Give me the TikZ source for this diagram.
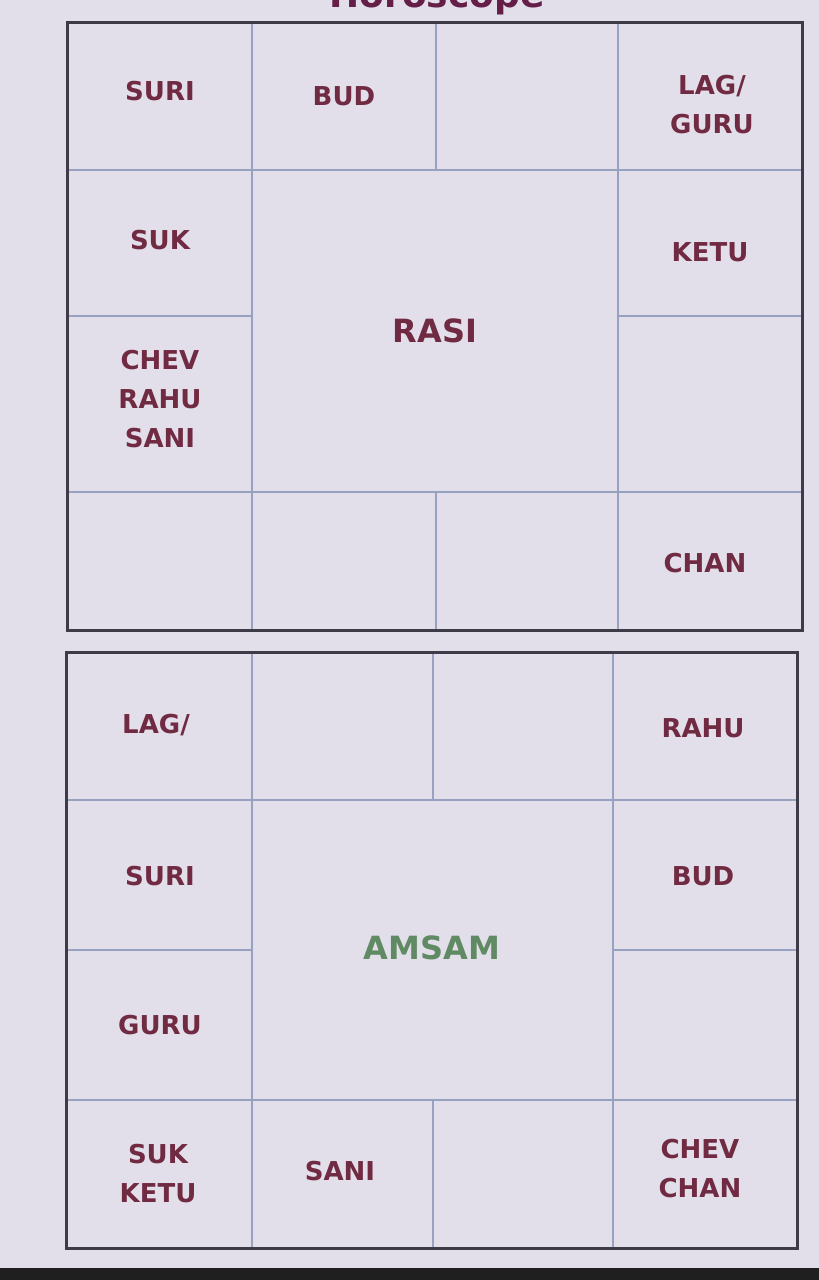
\documentclass[tikz,border=0pt]{standalone}
\usepackage{fontspec}
\setmainfont{DejaVu Sans}
\definecolor{bg}{RGB}{226,223,234}
\definecolor{lbl}{RGB}{112,42,66}
\definecolor{grn}{RGB}{96,138,100}
\definecolor{gridc}{RGB}{150,162,192}
\definecolor{framec}{RGB}{62,58,72}
\definecolor{ttl}{RGB}{100,30,72}
\begin{document}
\begin{tikzpicture}[x=1pt,y=-1pt,
  planet/.style={font=\bfseries\fontsize{26}{39}\selectfont, text=lbl, align=center, inner sep=0pt},
  chartname/.style={font=\bfseries\fontsize{32}{38}\selectfont, inner sep=0pt},
  cellline/.style={draw=gridc, line width=1.4pt},
  outer/.style={draw=framec, line width=3pt}]
\useasboundingbox (0,0) rectangle (819,1280);
\fill[bg] (0,0) rectangle (819,1280);
\fill[black!88] (0,1268) rectangle (819,1280);
% title (cut off at the top, as in the photo)
\node[font=\bfseries\fontsize{36}{40}\selectfont, text=ttl, anchor=base, inner sep=0pt] (title) at (437,7) {Horoscope};

% ---- RASI chart ----
\draw[cellline] (67,170) -- (802,170);
\draw[cellline] (67,492) -- (802,492);
\draw[cellline] (67,316) -- (252,316);
\draw[cellline] (618,316) -- (802,316);
\draw[cellline] (252,22) -- (252,630);
\draw[cellline] (618,22) -- (618,630);
\draw[cellline] (436,22) -- (436,170);
\draw[cellline] (436,492) -- (436,630);
\draw[outer] (67,22) rectangle (802,630);

\node[planet] (r1) at (160,91) {SURI};
\node[planet] (r2) at (344,96) {BUD};
\node[planet] (r4) at (712,105) {LAG/\\GURU};
\node[planet] (r5) at (160,240) {SUK};
\node[planet] (r6) at (710,252) {KETU};
\node[planet] (r7) at (160,399) {CHEV\\RAHU\\SANI};
\node[planet] (r8) at (705,563) {CHAN};
\node[chartname, text=lbl] (rasi) at (435,331) {RASI};

% ---- AMSAM chart ----
\draw[cellline] (66,800) -- (797,800);
\draw[cellline] (66,1100) -- (797,1100);
\draw[cellline] (66,950) -- (252,950);
\draw[cellline] (613,950) -- (797,950);
\draw[cellline] (252,652) -- (252,1248);
\draw[cellline] (613,652) -- (613,1248);
\draw[cellline] (433,652) -- (433,800);
\draw[cellline] (433,1100) -- (433,1248);
\draw[outer] (66,652) rectangle (797,1248);

\node[planet] (a1) at (156,725) {LAG/};
\node[planet] (a4) at (703,728) {RAHU};
\node[planet] (a5) at (160,876) {SURI};
\node[planet] (a6) at (703,876) {BUD};
\node[planet] (a7) at (160,1025) {GURU};
\node[planet] (a9) at (158,1174) {SUK\\KETU};
\node[planet] (a10) at (340,1171) {SANI};
\node[planet] (a12) at (700,1169) {CHEV\\CHAN};
\node[chartname, text=grn] (amsam) at (432,948) {AMSAM};
\end{tikzpicture}
\end{document}
